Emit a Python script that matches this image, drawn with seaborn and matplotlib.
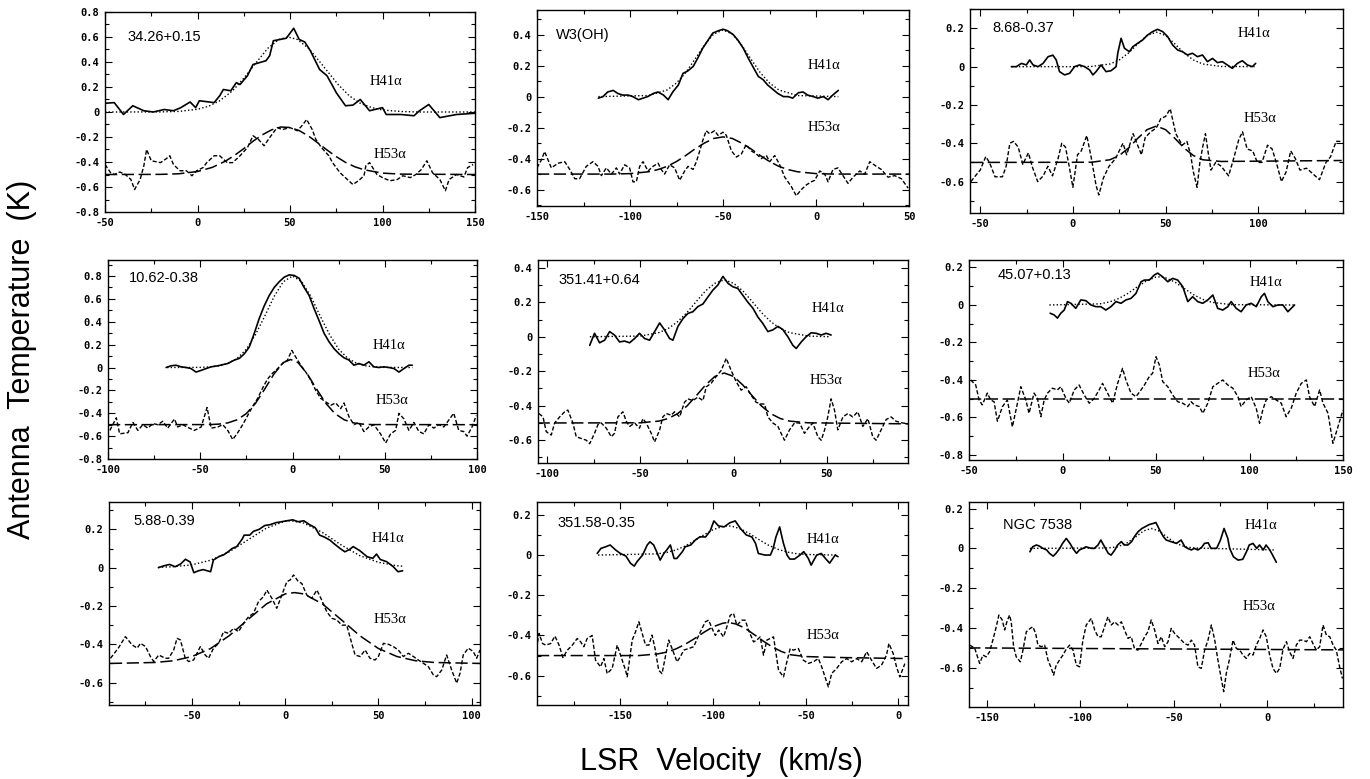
import numpy as np
import matplotlib.pyplot as plt
import seaborn as sns
from matplotlib.ticker import AutoMinorLocator, FuncFormatter

sns.set_style('ticks')
plt.rcParams['font.family'] = ['Liberation Sans', 'DejaVu Sans']
plt.rcParams['text.color'] = 'black'
plt.rcParams['xtick.color'] = 'black'
plt.rcParams['ytick.color'] = 'black'

# spectra: (LSR velocity km/s, antenna temperature K)

# 34.26+0.15
h41_3426 = [(-50,0.07),(-45,0.075),(-40,-0.02),(-35,0.05),(-29,0.01),(-24,0.0),(-18,0.02),(-13,0.01),(-9,0.035),
            (-4,0.08),(-1,0.035),(1,0.09),(9,0.075),(12,0.13),(14,0.18),(18,0.17),(21,0.235),(23,0.22),(27,0.29),
            (30,0.38),(37,0.41),(39,0.45),(41,0.57),(48,0.59),(52,0.67),(55,0.58),(58,0.56),(61,0.49),(66,0.34),
            (70,0.29),(73,0.21),(75,0.155),(80,0.05),(84,0.055),(88,0.10),(93,0.01),(100,0.035),(102,-0.02),
            (110,-0.02),(117,-0.03),(120,0.01),(125,0.06),(131,-0.045),(140,-0.02),(150,-0.01)]
fit41_3426 = [(-50,0),(-20,0.001),(-10,0.005),(0,0.022),(6,0.046),(12,0.09),(19,0.17),(25,0.27),(32,0.40),(38,0.51),
              (44,0.58),(49,0.60),(54,0.58),(60,0.51),(64,0.44),(70,0.33),(76,0.22),(82,0.13),(88,0.07),(94,0.036),
              (100,0.016),(110,0.004),(120,0.0),(150,0.0)]
h53_3426 = [(-50,-0.42),(-47,-0.485),(-45,-0.5),(-42,-0.48),(-39,-0.5),(-36,-0.54),(-34,-0.62),(-31,-0.54),(-29,-0.43),
            (-27.5,-0.30),(-25,-0.39),(-20,-0.405),(-17,-0.375),(-15,-0.35),(-13,-0.42),(-9.5,-0.47),(-6,-0.47),
            (-3,-0.51),(-0.5,-0.47),(3,-0.445),(5,-0.405),(9,-0.35),(12,-0.35),(16,-0.405),(19,-0.405),(23,-0.35),
            (27,-0.285),(30,-0.19),(33,-0.22),(36,-0.27),(39,-0.205),(43,-0.125),(46,-0.14),(50,-0.125),(54,-0.15),
            (57,-0.10),(59,-0.06),(62,-0.14),(64,-0.22),(67,-0.285),(71,-0.35),(73,-0.405),(77,-0.485),(81,-0.54),
            (84,-0.58),(87,-0.55),(90,-0.51),(91,-0.43),(93,-0.405),(97,-0.5),(100,-0.525),(104,-0.55),(108,-0.54),
            (111,-0.51),(115,-0.525),(118,-0.5),(121,-0.46),(124,-0.39),(127,-0.485),(131,-0.54),(134,-0.63),
            (136,-0.54),(140,-0.5),(144,-0.52),(146,-0.445),(149,-0.42)]
fit53_3426 = [(-50,-0.5),(-20,-0.499),(-10,-0.494),(0,-0.476),(8,-0.443),(15,-0.394),(20,-0.347),(25,-0.293),
              (30,-0.234),(35,-0.183),(40,-0.143),(45,-0.12),(50,-0.124),(55,-0.149),(60,-0.192),(65,-0.247),
              (70,-0.304),(75,-0.357),(80,-0.403),(85,-0.438),(90,-0.462),(100,-0.489),(110,-0.497),(150,-0.5)]

# W3(OH)
h41_w3oh = [(-117,-0.01),(-114.5,0),(-112,0.03),(-109,0.04),(-106.5,0.02),(-104,0.01),(-101,0.01),(-98.5,0),
            (-95.5,-0.02),(-93,-0.01),(-90.5,0),(-87.5,0.02),(-85,0.03),(-82,0.01),(-79.5,-0.02),(-77,0.03),
            (-74,0.075),(-71.5,0.15),(-69,0.165),(-66,0.195),(-63.5,0.25),(-61,0.31),(-58,0.365),(-55.5,0.41),
            (-52.5,0.425),(-50,0.435),(-47.5,0.425),(-44.5,0.40),(-42,0.365),(-39,0.31),(-36.5,0.25),(-34,0.195),
            (-31,0.13),(-28.5,0.11),(-26,0.075),(-23,0.045),(-20.5,0.02),(-17.5,0),(-15,0),(-12.5,-0.01),
            (-9.5,0.025),(-7,0.03),(-4.5,0.01),(-1.5,0),(1,-0.01),(4,0),(6.5,-0.02),(9,0.01),(12,0.04)]
fit41_w3oh = [(-117,0),(-90,0.007),(-80,0.043),(-75,0.088),(-70,0.155),(-65,0.243),(-60,0.333),(-55,0.404),
              (-50,0.43),(-45,0.404),(-40,0.333),(-35,0.243),(-30,0.155),(-25,0.088),(-20,0.043),(-10,0.007),(12,0)]
h53_w3oh = [(-150,-0.46),(-147.7,-0.41),(-145.9,-0.355),(-142.3,-0.46),(-138.7,-0.43),(-135.1,-0.42),(-132.4,-0.47),
            (-129.7,-0.53),(-127.1,-0.53),(-123.5,-0.45),(-119.9,-0.42),(-117.2,-0.45),(-115.4,-0.51),(-112.7,-0.46),
            (-110,-0.50),(-107.3,-0.46),(-105.6,-0.50),(-102.9,-0.44),(-100.2,-0.46),(-98.4,-0.55),(-96.6,-0.55),
            (-94.8,-0.45),(-93,-0.42),(-90.3,-0.48),(-87.6,-0.45),(-84.9,-0.43),(-83.2,-0.47),(-81.4,-0.50),
            (-78.7,-0.44),(-76,-0.46),(-73.3,-0.54),(-70.6,-0.48),(-68.8,-0.45),(-66.1,-0.47),(-64.3,-0.42),
            (-62.5,-0.35),(-60.8,-0.28),(-59,-0.22),(-57.2,-0.24),(-54.5,-0.22),(-52.7,-0.25),(-50,-0.23),
            (-48.2,-0.25),(-45.5,-0.35),(-42.8,-0.39),(-40.1,-0.37),(-37.5,-0.31),(-34.8,-0.35),(-32.1,-0.37),
            (-29.4,-0.40),(-26.7,-0.38),(-24.9,-0.42),(-22.2,-0.38),(-19.5,-0.44),(-16.8,-0.52),(-13.3,-0.58),
            (-10.6,-0.64),(-7.9,-0.60),(-5.2,-0.57),(-2.5,-0.55),(-0.7,-0.54),(2,-0.48),(4.7,-0.50),(6.5,-0.55),
            (9.1,-0.47),(11.8,-0.46),(14.5,-0.51),(17.2,-0.56),(19.9,-0.52),(23.5,-0.48),(26.2,-0.50),(28.9,-0.42),
            (32.4,-0.45),(35.1,-0.47),(38.7,-0.52),(42.3,-0.51),(45.9,-0.53),(49.5,-0.59)]
fit53_w3oh = [(-150,-0.5),(-110,-0.5),(-100,-0.497),(-90,-0.485),(-85,-0.471),(-80,-0.45),(-75,-0.419),(-70,-0.38),
              (-65,-0.337),(-60,-0.30),(-55,-0.27),(-50,-0.26),(-45,-0.27),(-40,-0.30),(-35,-0.337),(-30,-0.38),
              (-25,-0.419),(-20,-0.45),(-15,-0.471),(-10,-0.485),(0,-0.497),(10,-0.5),(50,-0.5)]

# 8.68-0.37
h41_868 = [(-33.2,0),(-30.5,0),(-27.8,0.017),(-25.1,0.009),(-23.3,0.035),(-21.5,0.009),(-18.8,0),(-16.1,0.017),
           (-13.4,0.052),(-10.8,0.06),(-9,0.035),(-7.2,-0.026),(-4.5,-0.043),(-1.8,-0.035),(0.9,0),(3.6,0.009),
           (6.3,0),(9,-0.017),(10.8,-0.043),(12.5,-0.026),(15.2,0.009),(17.9,-0.026),(20.6,-0.021),(23.3,0),
           (24.2,0.07),(26,0.148),(27.8,0.096),(30.5,0.078),(32.3,0.104),(34.9,0.122),(37.6,0.139),(40.3,0.165),
           (43,0.183),(45.7,0.195),(48.4,0.183),(51.1,0.157),(53.8,0.113),(56.5,0.087),(59.1,0.078),(61.8,0.061),
           (64.5,0.07),(67.2,0.052),(69.9,0.061),(72.6,0.026),(75.3,0.043),(78,0.021),(80.6,0.026),(83.3,0.009),
           (86,-0.009),(88.7,0.017),(91.4,0.031),(94.1,0.009),(96.8,0),(98.6,0.017)]
fit41_868 = [(-33,0),(0,0),(10,0.001),(20,0.014),(25,0.035),(30,0.071),(35,0.119),(40,0.163),(45,0.18),(50,0.163),
             (55,0.119),(60,0.071),(65,0.035),(70,0.014),(80,0.001),(98,0)]
h53_868 = [(-55,-0.60),(-53,-0.575),(-50,-0.54),(-47,-0.47),(-45,-0.50),(-42,-0.575),(-38,-0.575),(-36,-0.52),
           (-34,-0.40),(-32,-0.39),(-29.5,-0.42),(-27,-0.51),(-24,-0.45),(-22,-0.52),(-19,-0.60),(-16,-0.57),
           (-13.5,-0.52),(-11,-0.57),(-8,-0.48),(-6,-0.40),(-4,-0.42),(-2,-0.52),(0,-0.63),(2.5,-0.46),(4.5,-0.44),
           (7.5,-0.36),(10,-0.48),(12.5,-0.62),(14,-0.67),(16.5,-0.58),(19.5,-0.52),(23,-0.48),(27,-0.40),
           (29,-0.46),(32.5,-0.35),(34.5,-0.40),(37,-0.46),(39,-0.37),(42,-0.34),(45,-0.32),(47.5,-0.27),
           (50,-0.26),(52.5,-0.22),(55.5,-0.35),(59,-0.41),(61.5,-0.39),(63.5,-0.46),(65,-0.55),(67,-0.63),
           (68.5,-0.50),(70,-0.42),(71.5,-0.35),(73,-0.45),(74.5,-0.54),(77,-0.50),(80,-0.52),(84,-0.57),
           (87,-0.47),(89.5,-0.38),(91.5,-0.34),(94,-0.43),(97,-0.44),(99.5,-0.50),(102,-0.50),(105,-0.41),
           (107.5,-0.43),(110,-0.51),(112.5,-0.60),(115,-0.55),(117.5,-0.44),(120,-0.48),(122.5,-0.54),
           (126,-0.53),(129.5,-0.56),(133,-0.59),(136.5,-0.50),(139,-0.47),(142,-0.39),(145,-0.39)]
fit53_868 = [(-55,-0.5),(10,-0.499),(20,-0.486),(25,-0.464),(30,-0.425),(35,-0.374),(40,-0.329),(45,-0.31),
             (50,-0.329),(55,-0.374),(60,-0.425),(65,-0.464),(70,-0.486),(80,-0.495),(145,-0.49)]

# 10.62-0.38
h41_1062 = [(-68.5,0),(-65.8,0.015),(-63.1,0.02),(-60.4,0.006),(-57.7,0),(-55,-0.009),(-52.3,-0.04),(-49.5,-0.025),
            (-46.8,-0.009),(-44.1,0.006),(-40.5,0.015),(-37.8,0.025),(-35.1,0.035),(-31.5,0.065),(-28.8,0.08),
            (-26.1,0.12),(-23.4,0.18),(-20.7,0.30),(-18,0.43),(-15.3,0.54),(-12.6,0.63),(-9.9,0.70),(-7.2,0.75),
            (-4.5,0.79),(-1.8,0.81),(0.9,0.805),(3.6,0.78),(6.3,0.70),(9,0.63),(11.7,0.515),(14.4,0.41),(17.1,0.30),
            (19.8,0.225),(22.5,0.165),(25.2,0.12),(27.9,0.085),(30.6,0.065),(33.3,0.02),(36,0.035),(38.7,0.02),
            (41.4,0.05),(44.1,0.006),(46.8,0),(49.5,0.006),(52.3,0),(55,-0.009),(57.7,-0.04),(60.4,-0.009),
            (63.1,0.02),(64.9,0.02)]
fit41_1062 = [(-68,0),(-50,0.001),(-45,0.005),(-40,0.014),(-35,0.035),(-30,0.08),(-25,0.16),(-20,0.29),(-15,0.45),
              (-10,0.62),(-5,0.75),(0,0.8),(5,0.75),(10,0.62),(15,0.45),(20,0.29),(25,0.16),(30,0.08),(35,0.035),
              (40,0.014),(45,0.005),(50,0.001),(65,0)]
h53_1062 = [(-99,-0.55),(-95.5,-0.44),(-93.7,-0.58),(-89.2,-0.57),(-86.5,-0.48),(-83.8,-0.55),(-81.1,-0.50),
            (-78.4,-0.53),(-75.7,-0.49),(-73,-0.50),(-70.3,-0.47),(-67.6,-0.53),(-64,-0.45),(-62.2,-0.52),
            (-59.5,-0.50),(-55.9,-0.53),(-53.2,-0.55),(-49.5,-0.52),(-46.3,-0.35),(-44.1,-0.53),(-40.5,-0.52),
            (-37.8,-0.50),(-35.1,-0.55),(-32.4,-0.63),(-29.7,-0.57),(-27,-0.50),(-24.3,-0.42),(-21.6,-0.34),
            (-18.9,-0.27),(-16.2,-0.18),(-13.5,-0.10),(-10.8,-0.05),(-8.1,-0.01),(-5.4,0.035),(-2.7,0.065),
            (-0.4,0.15),(1.8,0.09),(4.5,0.02),(7.2,-0.04),(9.9,-0.11),(12.6,-0.20),(15.3,-0.27),(18,-0.30),
            (20.7,-0.33),(23.4,-0.31),(26.1,-0.36),(27.9,-0.31),(30.6,-0.43),(33.3,-0.50),(36,-0.48),(38.7,-0.56),
            (41.4,-0.52),(44.1,-0.50),(47.7,-0.58),(50.5,-0.66),(53.2,-0.58),(55.9,-0.55),(57.7,-0.40),
            (60.4,-0.45),(63.1,-0.55),(65.8,-0.48),(68.5,-0.56),(71.2,-0.58),(73.9,-0.50),(76.6,-0.53),
            (79.3,-0.50),(82,-0.52),(87.4,-0.40),(90.1,-0.55),(92.8,-0.56),(94.6,-0.60),(97.3,-0.52),(99.6,-0.42)]
fit53_1062 = [(-100,-0.5),(-45,-0.499),(-40,-0.495),(-35,-0.484),(-30,-0.457),(-25,-0.403),(-20,-0.312),
              (-15,-0.187),(-10,-0.056),(-5,0.043),(-1,0.07),(3,0.043),(8,-0.056),(13,-0.187),(18,-0.312),
              (23,-0.403),(28,-0.457),(33,-0.484),(38,-0.495),(43,-0.499),(100,-0.5)]

# 351.41+0.64
h41_35141 = [(-77.1,-0.05),(-74.5,0.02),(-71.8,-0.035),(-69.1,-0.02),(-66.4,0.03),(-63.8,0.01),(-61.1,-0.03),
             (-58.4,-0.025),(-55.7,-0.035),(-53,-0.01),(-50.4,0.02),(-47.7,-0.01),(-45,-0.02),(-42.3,0.03),
             (-39.6,0.08),(-37,0.04),(-34.3,-0.01),(-32.5,-0.02),(-29.8,0.06),(-27.1,0.105),(-24.5,0.135),
             (-21.8,0.145),(-19.1,0.175),(-16.4,0.19),(-13.8,0.23),(-11.1,0.27),(-8.4,0.30),(-5.7,0.35),(-3,0.31),
             (-0.4,0.29),(2.3,0.28),(5,0.24),(7.7,0.20),(10.4,0.165),(13,0.115),(15.7,0.077),(18.4,0.03),
             (21.1,0.04),(23.8,0.06),(26.4,0.042),(29.1,0),(31.8,-0.05),(33.6,-0.068),(36.3,-0.03),(38.9,0),
             (41.6,0.023),(44.3,0.02),(47,0.01),(49.6,0.02),(52.3,0.01)]
fit41_35141 = [(-77,0),(-50,0.004),(-40,0.024),(-35,0.048),(-30,0.087),(-25,0.14),(-20,0.204),(-15,0.266),
               (-10,0.31),(-5,0.33),(0,0.31),(5,0.266),(10,0.204),(15,0.14),(20,0.087),(25,0.048),(30,0.024),
               (40,0.004),(52,0)]
h53_35141 = [(-104.3,-0.445),(-102.1,-0.465),(-100.4,-0.55),(-97.7,-0.57),(-95.9,-0.50),(-93.2,-0.465),
             (-90.5,-0.435),(-88.8,-0.425),(-86.1,-0.50),(-84.3,-0.58),(-81.6,-0.59),(-78.9,-0.60),(-77.1,-0.62),
             (-74.5,-0.56),(-72.7,-0.51),(-70.9,-0.50),(-68.2,-0.53),(-65.5,-0.58),(-63.8,-0.56),(-62,-0.465),
             (-59.3,-0.435),(-57.5,-0.49),(-55.7,-0.52),(-53,-0.50),(-50.4,-0.53),(-48.6,-0.475),(-46.8,-0.50),
             (-44.1,-0.56),(-42.3,-0.61),(-39.6,-0.54),(-37.9,-0.465),(-36.1,-0.445),(-33.4,-0.455),(-31.6,-0.435),
             (-28.9,-0.465),(-26.3,-0.38),(-24.5,-0.36),(-21.8,-0.37),(-19.1,-0.35),(-16.4,-0.37),(-14.6,-0.29),
             (-12,-0.27),(-9.3,-0.23),(-6.6,-0.195),(-3.9,-0.125),(-1.3,-0.195),(1.4,-0.26),(4.1,-0.31),
             (6.8,-0.29),(9.5,-0.34),(12.1,-0.38),(14.8,-0.39),(16.6,-0.39),(18.4,-0.465),(21.1,-0.50),
             (23.8,-0.52),(25.5,-0.56),(27.3,-0.60),(30,-0.54),(32.7,-0.50),(35.4,-0.50),(38,-0.56),(40.7,-0.52),
             (42.5,-0.50),(45.2,-0.58),(47,-0.60),(48.8,-0.54),(50.5,-0.465),(52.3,-0.36),(54.1,-0.425),
             (55.9,-0.54),(58.6,-0.465),(61.3,-0.445),(63.9,-0.465),(66.6,-0.435),(69.3,-0.52),(72,-0.475),
             (74.6,-0.58),(76.4,-0.60),(79.1,-0.54),(81.8,-0.48),(84.5,-0.465),(87.1,-0.49),(90.7,-0.50),
             (93.4,-0.505)]
fit53_35141 = [(-105,-0.5),(-50,-0.499),(-40,-0.489),(-35,-0.474),(-30,-0.446),(-25,-0.402),(-20,-0.342),
               (-15,-0.28),(-10,-0.23),(-5,-0.21),(0,-0.23),(5,-0.28),(10,-0.342),(15,-0.402),(20,-0.446),
               (25,-0.474),(30,-0.489),(40,-0.499),(93.5,-0.505)]

# 45.07+0.13
h41_4507 = [(-6.6,-0.044),(-4.5,-0.053),(-2.7,-0.07),(-0.9,-0.044),(0.9,-0.027),(2.7,0.018),(4.5,0.009),
            (7.1,-0.018),(9.8,0.027),(12.5,0.023),(15.2,0),(17.9,-0.009),(20.5,-0.009),(23.2,-0.027),(25.9,-0.009),
            (28.6,0.018),(31.3,0.009),(33.9,0.027),(36.6,0.035),(39.3,0.062),(42,0.124),(43.8,0.133),(46.4,0.133),
            (49.1,0.16),(50.9,0.17),(53.6,0.15),(56.3,0.124),(58.9,0.142),(61.6,0.133),(64.3,0.098),(67,0.018),
            (69.6,0.044),(72.3,0.018),(75,0.009),(77.7,0.027),(80.4,0.053),(83,-0.018),(85.7,-0.027),(88.4,-0.009),
            (90.2,0.018),(92.9,-0.018),(95.5,-0.036),(98.2,0),(100.9,0.009),(103.6,-0.009),(106.3,0.044),
            (108,0.062),(109.8,0.018),(112.5,-0.009),(115.2,0),(117.9,0),(120.5,-0.036),(122.3,-0.018),(124.1,0)]
fit41_4507 = [(-7,0),(20,0.006),(25,0.016),(30,0.034),(35,0.062),(40,0.097),(45,0.129),(50,0.149),(52,0.15),
              (55,0.146),(60,0.123),(65,0.089),(70,0.055),(75,0.03),(80,0.014),(90,0.002),(124,0)]
h53_4507 = [(-49.1,-0.40),(-46.4,-0.427),(-44.6,-0.507),(-42.9,-0.533),(-40.2,-0.47),(-38.4,-0.507),(-36.6,-0.516),
            (-34.8,-0.62),(-32.1,-0.542),(-29.5,-0.507),(-26.8,-0.65),(-24.1,-0.524),(-22.3,-0.436),(-19.6,-0.507),
            (-17.9,-0.578),(-15.2,-0.47),(-13.4,-0.498),(-11.6,-0.596),(-9.8,-0.507),(-8,-0.47),(-5.4,-0.444),
            (-2.7,-0.453),(-0.9,-0.436),(1.8,-0.498),(3.6,-0.524),(6.3,-0.453),(8.9,-0.427),(11.6,-0.48),
            (14.3,-0.524),(17,-0.498),(19.6,-0.453),(21.4,-0.418),(24.1,-0.47),(26.8,-0.524),(29.5,-0.418),
            (32.1,-0.338),(33.9,-0.40),(36.6,-0.47),(39.3,-0.489),(42,-0.453),(43.8,-0.427),(46.4,-0.382),
            (48.2,-0.364),(50,-0.276),(51.8,-0.32),(53.6,-0.409),(56.3,-0.436),(58.9,-0.48),(61.6,-0.516),
            (64.3,-0.524),(67,-0.542),(68.8,-0.516),(70.5,-0.533),(73.2,-0.542),(75,-0.578),(77.7,-0.524),
            (80.4,-0.436),(83,-0.418),(85.7,-0.40),(88.4,-0.427),(91.1,-0.444),(93.8,-0.489),(95.5,-0.542),
            (98.2,-0.507),(100.9,-0.489),(103.6,-0.551),(105.4,-0.631),(107.1,-0.56),(108.9,-0.507),(111.6,-0.489),
            (114.3,-0.507),(117,-0.524),(119.6,-0.596),(122.3,-0.551),(125,-0.47),(127.7,-0.418),(130.4,-0.40),
            (132.1,-0.489),(134.8,-0.542),(137.5,-0.453),(139.3,-0.524),(142,-0.578),(144.6,-0.738),(147.3,-0.65),
            (150,-0.56)]
fit53_4507 = [(-50,-0.5),(150,-0.5)]

# 5.88-0.39
h41_588 = [(-68,0.0),(-65,0.01),(-62,0.017),(-59,0.005),(-56,0.02),(-53.5,0.044),(-51,0.03),(-49,-0.026),
           (-46.5,-0.016),(-44,-0.01),(-40,-0.021),(-38.5,0.04),(-35.5,0.058),(-33,0.067),(-30.5,0.084),(-28.5,0.10),
           (-26,0.11),(-23,0.15),(-22,0.17),(-19,0.17),(-17,0.19),(-14,0.20),(-11,0.22),(-8,0.225),(-5,0.235),
           (-2,0.24),(1,0.245),(4,0.25),(7,0.24),(10,0.245),(13,0.225),(16,0.21),(18.5,0.17),(21,0.16),(24,0.144),
           (26,0.127),(29.5,0.10),(32,0.083),(34.5,0.095),(36.5,0.11),(40,0.089),(44,0.057),(47,0.049),(49,0.071),
           (51,0.043),(54.5,0.031),(58,0.005),(60.5,-0.021),(63,-0.016)]
fit41_588 = [(-68,0.002),(-60,0.005),(-50,0.015),(-40,0.039),(-30,0.083),(-20,0.145),(-10,0.207),(0,0.243),
             (3,0.245),(10,0.233),(20,0.184),(30,0.119),(40,0.063),(50,0.028),(60,0.01),(63,0.008)]
h53_588 = [(-93.7,-0.473),(-89.5,-0.42),(-85.7,-0.36),(-82.1,-0.403),(-79.4,-0.42),(-77.6,-0.395),(-74.9,-0.412),
           (-72.3,-0.464),(-70.5,-0.49),(-67.8,-0.456),(-64.3,-0.473),(-62.5,-0.473),(-59.8,-0.43),(-58,-0.369),
           (-56.2,-0.377),(-53.6,-0.473),(-51.8,-0.49),(-49.1,-0.482),(-45.5,-0.412),(-42.9,-0.456),(-41.1,-0.473),
           (-38.4,-0.42),(-35.7,-0.395),(-33,-0.334),(-30.4,-0.343),(-27.7,-0.317),(-25,-0.334),(-22.3,-0.29),
           (-19.6,-0.256),(-17,-0.238),(-14.3,-0.177),(-11.6,-0.151),(-9.8,-0.117),(-7.1,-0.16),(-4.5,-0.212),
           (-1.8,-0.143),(0.9,-0.073),(2.7,-0.064),(4.5,-0.038),(7.1,-0.073),(8.9,-0.082),(11.6,-0.143),
           (14.3,-0.16),(17,-0.117),(19.6,-0.169),(22.3,-0.23),(25,-0.264),(27.7,-0.273),(30.4,-0.30),(33,-0.30),
           (35.7,-0.395),(37.5,-0.456),(40.2,-0.464),(42.9,-0.43),(45.5,-0.473),(48.2,-0.482),(50,-0.464),
           (52.7,-0.395),(55.4,-0.40),(58,-0.412),(60.7,-0.43),(63.4,-0.464),(66.1,-0.447),(68.8,-0.464),
           (71.4,-0.482),(74.1,-0.499),(76.8,-0.517),(79.5,-0.56),(81.3,-0.569),(84,-0.534),(86.6,-0.456),
           (89.3,-0.534),(92,-0.603),(93.8,-0.551),(95.5,-0.456),(98.2,-0.42),(100.9,-0.438),(102.7,-0.473),
           (104.5,-0.43)]
fit53_588 = [(-94,-0.5),(-70,-0.495),(-60,-0.486),(-50,-0.464),(-40,-0.422),(-30,-0.355),(-20,-0.271),
             (-10,-0.189),(0,-0.137),(5,-0.13),(10,-0.137),(20,-0.189),(30,-0.271),(40,-0.355),(50,-0.422),
             (60,-0.464),(70,-0.486),(80,-0.495),(104.5,-0.5)]

# 351.58-0.35
h41_35158 = [(-162.5,0.008),(-160.5,0.033),(-158,0.041),(-155.5,0.05),(-152.5,0.025),(-150,0.008),(-147,-0.005),
             (-144.5,-0.041),(-142.5,-0.055),(-141,-0.033),(-138,0.0),(-135.5,0.05),(-134,0.066),(-132,0.05),
             (-130,0.008),(-128.5,-0.025),(-126.5,0.008),(-125,0.025),(-123,0.05),(-121,-0.017),(-119.5,-0.017),
             (-116.5,0.017),(-115,0.041),(-112,0.05),(-109.5,0.075),(-107,0.091),(-104,0.09),(-101.5,0.12),
             (-99.5,0.17),(-97,0.145),(-94,0.14),(-91,0.16),(-88,0.17),(-85,0.13),(-82,0.10),(-79,0.09),
             (-77,0.058),(-75.5,0.008),(-72,0.0),(-69,0.0),(-67.5,0.033),(-66,0.09),(-64,0.14),(-62,0.06),
             (-60,0.0),(-58.5,-0.02),(-56,-0.02),(-53,0.0),(-51,0.017),(-48.5,-0.017),(-47,-0.05),(-44,0.0),
             (-41.5,0.008),(-39,-0.02),(-37,-0.04),(-34,0.0),(-32.5,-0.008)]
fit41_35158 = [(-162,0),(-130,0.006),(-125,0.013),(-120,0.025),(-115,0.045),(-110,0.071),(-105,0.1),
               (-100,0.126),(-95,0.142),(-92,0.145),(-90,0.144),(-85,0.13),(-80,0.105),(-75,0.076),(-70,0.049),
               (-65,0.029),(-60,0.015),(-55,0.007),(-50,0.003),(-33,0)]
h53_35158 = [(-195.3,-0.465),(-193.9,-0.39),(-192,-0.44),(-190.3,-0.448),(-187.6,-0.44),(-185.3,-0.403),
             (-183.1,-0.448),(-181,-0.51),(-178.6,-0.473),(-175.9,-0.448),(-173.3,-0.415),(-171.5,-0.431),
             (-169.7,-0.456),(-167.9,-0.415),(-165.2,-0.40),(-163.4,-0.523),(-160.7,-0.556),(-158.9,-0.515),
             (-157.1,-0.59),(-154.4,-0.564),(-151.7,-0.448),(-149.9,-0.498),(-147.2,-0.573),(-146.3,-0.606),
             (-143.6,-0.423),(-141.8,-0.382),(-140,-0.332),(-138.2,-0.39),(-136.4,-0.448),(-134.6,-0.448),
             (-132.9,-0.398),(-131.1,-0.473),(-129.3,-0.573),(-127.5,-0.59),(-125.7,-0.506),(-123.9,-0.423),
             (-122.1,-0.465),(-119.4,-0.531),(-117.6,-0.506),(-115.8,-0.473),(-113.1,-0.465),(-110.4,-0.456),
             (-107.7,-0.40),(-105.9,-0.365),(-104.1,-0.332),(-102.3,-0.324),(-100.5,-0.365),(-98.7,-0.40),
             (-96.9,-0.373),(-94.3,-0.407),(-92.5,-0.357),(-90.7,-0.30),(-88.9,-0.29),(-87.1,-0.349),(-84.4,-0.324),
             (-82.6,-0.324),(-80.8,-0.373),(-78.1,-0.432),(-76.3,-0.423),(-74.5,-0.407),(-72.7,-0.498),
             (-70.9,-0.423),(-69.1,-0.415),(-67.3,-0.407),(-64.6,-0.573),(-61.9,-0.606),(-60.1,-0.531),
             (-58.3,-0.465),(-56.6,-0.473),(-53.9,-0.465),(-51.2,-0.523),(-48.5,-0.539),(-45.8,-0.531),
             (-43.1,-0.515),(-41.3,-0.556),(-39.5,-0.606),(-37.7,-0.656),(-35.9,-0.589),(-33.2,-0.564),
             (-30.5,-0.531),(-27.8,-0.515),(-25.1,-0.531),(-22.4,-0.515),(-19.7,-0.531),(-17,-0.481),(-14.4,-0.523),
             (-11.7,-0.564),(-9,-0.548),(-6.3,-0.498),(-5,-0.44),(-2.7,-0.49),(-0.9,-0.556),(0.9,-0.606),(3.6,-0.54)]
fit53_35158 = [(-195,-0.5),(-140,-0.5),(-130,-0.492),(-125,-0.483),(-120,-0.467),(-115,-0.444),(-110,-0.416),
               (-105,-0.385),(-100,-0.357),(-95,-0.34),(-92,-0.335),(-88,-0.342),(-83,-0.362),(-78,-0.394),
               (-73,-0.427),(-68,-0.457),(-63,-0.48),(-58,-0.496),(-50,-0.505),(-30,-0.51),(5,-0.515)]

# NGC 7538
h41_7538 = [(-127,-0.017),(-125.5,0.008),(-123.5,0.017),(-122,0.012),(-120,0.0),(-118,-0.008),(-116.5,-0.025),
            (-114.5,-0.039),(-113,-0.025),(-111,0.0),(-109.5,0.025),(-107.5,0.05),(-105.5,0.025),(-104,0.0),
            (-102,-0.025),(-100.5,-0.008),(-98.5,0.0),(-97,0.008),(-94,0.0),(-92.5,0.0),(-90.5,0.017),(-89,0.042),
            (-87,0.008),(-85,-0.025),(-83.5,-0.034),(-81.5,-0.008),(-80,0.017),(-78,0.034),(-76.5,0.017),
            (-74.5,0.017),(-72.5,0.034),(-71,0.059),(-69,0.084),(-67,0.10),(-65,0.11),(-63,0.12),(-61,0.125),
            (-59.5,0.13),(-57.5,0.092),(-55.5,0.059),(-54,0.042),(-51.5,0.034),(-48.5,0.025),(-46,0.042),
            (-44,0.008),(-42.5,0.0),(-40.5,-0.008),(-39,0.0),(-37,-0.008),(-35,0.005),(-33.5,0.025),(-31.5,0.028),
            (-30,0.0),(-27,0.0),(-25,0.04),(-23,0.10),(-21,0.05),(-20,0.0),(-18,-0.042),(-15.5,-0.059),
            (-13,-0.055),(-11,-0.017),(-9.5,0.017),(-7.5,0.025),(-5.5,0.0),(-4,0.017),(-2,-0.008),(-0.5,0.017),
            (1.5,-0.008),(3,-0.034),(5,-0.07)]
fit41_7538 = [(-127,0),(-85,0.002),(-80,0.008),(-75,0.027),(-70,0.06),(-66,0.088),(-62,0.1),(-58,0.088),
              (-54,0.06),(-49,0.027),(-44,0.008),(-39,0.002),(4,-0.008)]
h53_7538 = [(-159.3,-0.486),(-156.6,-0.50),(-153.9,-0.578),(-152.1,-0.536),(-150.4,-0.545),(-148.6,-0.52),
            (-146.8,-0.46),(-145,-0.394),(-143.6,-0.335),(-141.8,-0.36),(-140.5,-0.41),(-139.3,-0.369),
            (-137.9,-0.335),(-137,-0.369),(-135.7,-0.494),(-134.3,-0.545),(-132.1,-0.57),(-130.7,-0.511),
            (-128.9,-0.419),(-126.8,-0.402),(-125.4,-0.394),(-123.9,-0.427),(-122.7,-0.486),(-120.9,-0.494),
            (-119.1,-0.486),(-117.3,-0.561),(-115.5,-0.603),(-114.3,-0.637),(-112.9,-0.587),(-111.1,-0.561),
            (-109.3,-0.536),(-107.5,-0.506),(-105.7,-0.486),(-103.9,-0.511),(-102.1,-0.587),(-100.4,-0.595),
            (-98.6,-0.461),(-96.8,-0.385),(-94.1,-0.352),(-92.3,-0.41),(-90.5,-0.444),(-88.8,-0.444),(-87,-0.394),
            (-85.2,-0.344),(-83.4,-0.385),(-81.6,-0.369),(-79.8,-0.385),(-78,-0.369),(-76.3,-0.41),(-74.5,-0.452),
            (-72.7,-0.444),(-70.9,-0.506),(-69.1,-0.511),(-67.3,-0.478),(-65.5,-0.444),(-63.8,-0.419),(-62,-0.36),
            (-60.2,-0.41),(-58.4,-0.478),(-56.6,-0.444),(-54.8,-0.494),(-53,-0.469),(-51.3,-0.402),(-49.5,-0.427),
            (-47.7,-0.444),(-45.9,-0.461),(-44.1,-0.478),(-42.3,-0.486),(-40.5,-0.461),(-38.8,-0.486),(-37,-0.595),
            (-35.2,-0.603),(-33.4,-0.511),(-31.6,-0.461),(-29.8,-0.385),(-28,-0.461),(-26.3,-0.561),(-24.5,-0.654),
            (-23.2,-0.72),(-21.8,-0.628),(-20,-0.553),(-18.2,-0.461),(-16.4,-0.503),(-14.6,-0.511),(-12.9,-0.536),
            (-11.1,-0.553),(-9.3,-0.528),(-7.5,-0.536),(-5.7,-0.486),(-3.9,-0.452),(-2.1,-0.41),(-0.4,-0.444),
            (1.4,-0.536),(3.2,-0.603),(5,-0.628),(6.8,-0.603),(8.6,-0.506),(10.4,-0.469),(12.1,-0.52),(13.9,-0.553),
            (15.7,-0.486),(17.5,-0.461),(19.3,-0.461),(21.1,-0.469),(22.9,-0.444),(24.6,-0.478),(26.4,-0.511),
            (28.2,-0.494),(30,-0.385),(31.8,-0.436),(33.6,-0.444),(35.4,-0.486),(37.1,-0.511),(38.9,-0.595),
            (40.4,-0.654)]
fit53_7538 = [(-160,-0.5),(41,-0.51)]

# panel layout: pixel box (left, top, right, bottom), axis ranges, ticks, label spots
panels = [
    dict(name='34.26+0.15', data=(h41_3426, fit41_3426, h53_3426, fit53_3426), box=(105, 12, 475, 212),
         xlim=(-50, 150), ylim=(-0.8, 0.8), xt=[-50, 0, 50, 100, 150], yt=(-0.8, 0.8),
         at=[(-38, 0.6), (93, 0.245), (95, -0.34)]),
    dict(name='W3(OH)', data=(h41_w3oh, fit41_w3oh, h53_w3oh, fit53_w3oh), box=(537, 10, 909, 206),
         xlim=(-150, 50), ylim=(-0.706, 0.559), xt=[-150, -100, -50, 0, 50], yt=(-0.6, 0.4),
         at=[(-140, 0.4), (-4.3, 0.2), (-4.3, -0.2)]),
    dict(name='8.68-0.37', data=(h41_868, fit41_868, h53_868, fit53_868), box=(970, 9, 1343, 213),
         xlim=(-55.5, 145.7), ylim=(-0.764, 0.301), xt=[-50, 0, 50, 100], yt=(-0.6, 0.2),
         at=[(-43.5, 0.2), (89, 0.174), (92, -0.27)]),
    dict(name='10.62-0.38', data=(h41_1062, fit41_1062, h53_1062, fit53_1062), box=(108, 260, 477, 459),
         xlim=(-100, 100), ylim=(-0.8, 0.94), xt=[-100, -50, 0, 50, 100], yt=(-0.8, 0.8),
         at=[(-88.5, 0.78), (43.2, 0.195), (44.9, -0.285)]),
    dict(name='351.41+0.64', data=(h41_35141, fit41_35141, h53_35141, fit53_35141), box=(538, 260, 908, 463),
         xlim=(-104.8, 93.5), ylim=(-0.732, 0.445), xt=[-100, -50, 0, 50], yt=(-0.6, 0.4),
         at=[(-94, 0.33), (41.6, 0.164), (40.7, -0.251)]),
    dict(name='45.07+0.13', data=(h41_4507, fit41_4507, h53_4507, fit53_4507), box=(969, 260, 1343, 460),
         xlim=(-50, 150), ylim=(-0.827, 0.24), xt=[-50, 0, 50, 100, 150], yt=(-0.8, 0.2),
         at=[(-34.8, 0.16), (100, 0.12), (99, -0.368)]),
    dict(name='5.88-0.39', data=(h41_588, fit41_588, h53_588, fit53_588), box=(109, 502, 480, 705),
         xlim=(-94.5, 104.5), ylim=(-0.717, 0.343), xt=[-50, 0, 50, 100], yt=(-0.6, 0.2),
         at=[(-81.3, 0.242), (46.4, 0.153), (47.3, -0.273)]),
    dict(name='351.58-0.35', data=(h41_35158, fit41_35158, h53_35158, fit53_35158), box=(537, 502, 908, 705),
         xlim=(-195, 5.3), ylim=(-0.746, 0.264), xt=[-150, -100, -50, 0], yt=(-0.6, 0.2),
         at=[(-183.8, 0.158), (-49.4, 0.075), (-49.4, -0.40)]),
    dict(name='NGC 7538', data=(h41_7538, fit41_7538, h53_7538, fit53_7538), box=(969, 502, 1343, 707),
         xlim=(-159.6, 40.7), ylim=(-0.797, 0.233), xt=[-150, -100, -50, 0], yt=(-0.6, 0.2),
         at=[(-141.4, 0.117), (-11.9, 0.117), (-12.9, -0.29)]),
]

W, H = 1370, 779
# H41 data, H41 fit, H53 data, H53 fit
styles = [('-', 1.2), ((0, (1, 1.6)), 1.0), ((0, (3, 1.5)), 1.0), ((0, (8, 3)), 1.1)]

fig = plt.figure(figsize=(W / 100, H / 100), dpi=100)
fig.patch.set_facecolor('white')

yfmt = FuncFormatter(lambda v, p: '0' if abs(v) < 1e-9 else f'{v:.1f}')
xfmt = FuncFormatter(lambda v, p: f'{v:.0f}')

for p in panels:
    l, t, r, b = p['box']
    ax = fig.add_axes([l / W, 1 - b / H, (r - l) / W, (b - t) / H])
    for pts, (ls, lw) in zip(p['data'], styles):
        d = np.array(pts)
        sns.lineplot(x=d[:, 0], y=d[:, 1], ax=ax, color='black', linewidth=lw, linestyle=ls,
                     estimator=None, sort=False)
    ax.set_xlim(p['xlim'])
    ax.set_ylim(p['ylim'])
    ax.set_xticks(p['xt'])
    ax.set_yticks(np.round(np.arange(p['yt'][0], p['yt'][1] + 0.01, 0.2), 1))
    ax.xaxis.set_major_formatter(xfmt)
    ax.yaxis.set_major_formatter(yfmt)
    ax.xaxis.set_minor_locator(AutoMinorLocator(2))
    ax.yaxis.set_minor_locator(AutoMinorLocator(2))
    ax.tick_params(which='both', direction='in', top=True, right=True, width=0.8, colors='black')
    ax.tick_params(which='major', length=5, labelsize=7.5, pad=4)
    ax.tick_params(which='minor', length=3)
    for lab in ax.get_xticklabels() + ax.get_yticklabels():
        lab.set_family('DejaVu Sans Mono')
        lab.set_weight('bold')
    for s in ax.spines.values():
        s.set_linewidth(1.0)
        s.set_color('black')
    (nx, ny), (ax41, ay41), (ax53, ay53) = p['at']
    ax.text(nx, ny, p['name'], fontsize=10.5, family='Liberation Sans', color='black', ha='left', va='center')
    ax.text(ax41, ay41, 'H41α', fontsize=10.5, family='Liberation Serif', color='black', ha='left', va='center')
    ax.text(ax53, ay53, 'H53α', fontsize=10.5, family='Liberation Serif', color='black', ha='left', va='center')

fig.text(22 / W, 1 - 359 / H, 'Antenna  Temperature  (K)', rotation=90, fontsize=22, color='black',
         ha='center', va='center')
fig.text(721 / W, 1 - 762 / H, 'LSR  Velocity  (km/s)', fontsize=22, color='black', ha='center', va='center')

fig.savefig('out.png', dpi=100)
